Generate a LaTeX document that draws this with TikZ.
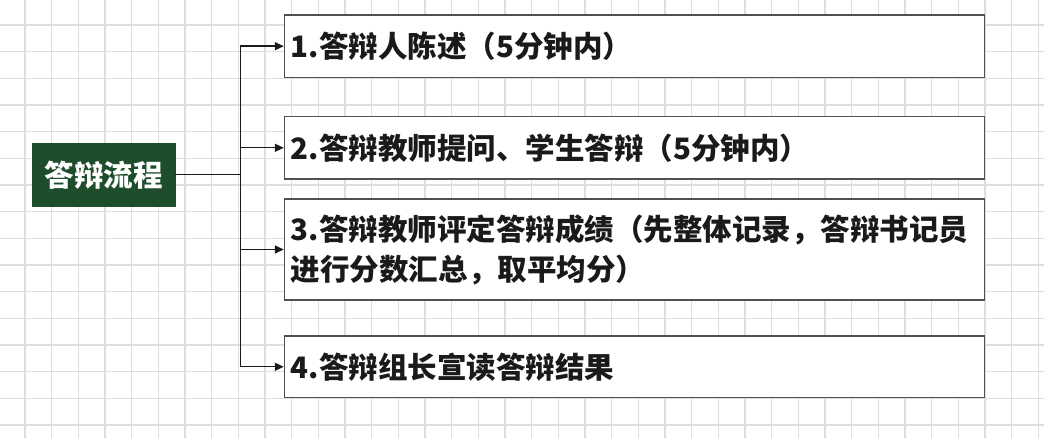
\documentclass[tikz,border=0pt]{standalone}
\usepackage{fontspec}
\newfontfamily\cjk{Noto Sans CJK SC}
\usetikzlibrary{arrows.meta,calc}
\definecolor{darkgreen}{RGB}{30,77,43}
\definecolor{gridgray}{RGB}{222,222,222}
\definecolor{boxgray}{RGB}{80,80,80}
\definecolor{ink}{RGB}{26,26,26}
\tikzset{
  gridline/.style={draw=gridgray,line width=1.3bp},
  stepbox/.style={draw=boxgray,fill=white,line width=1.4bp,minimum width=700bp,
    text width=687bp,inner xsep=6.5bp,inner ysep=0pt,align=left,text=ink,
    font=\cjk\bfseries\fontsize{29.5bp}{40bp}\selectfont},
  titlebox/.style={fill=darkgreen,draw=darkgreen,minimum width=142.7bp,minimum height=62.7bp,
    inner sep=0pt,text=white,font=\cjk\bfseries\fontsize{29.5bp}{34bp}\selectfont},
  link/.style={draw=ink,line width=1.4bp},
  arr/.style={link,-{Triangle[length=9bp,width=8bp]}}
}
\begin{document}
\begin{tikzpicture}[x=1bp,y=-1bp]
\useasboundingbox (0,0) rectangle (1044,438);
\fill[white] (0,0) rectangle (1044,438);
\foreach \i in {0,...,38} \draw[gridline] ({25+26.667*\i},0) -- ({25+26.667*\i},438);
\foreach \j in {0,...,15} \draw[gridline] (0,{25+26.667*\j}) -- (1044,{25+26.667*\j});

\node[titlebox] (g) at (103.7,174.7) {答辩流程};
\node[stepbox,minimum height=62.3bp] (b1) at (634.5,46.2) {1.答辩人陈述（5分钟内）};
\node[stepbox,minimum height=62.3bp] (b2) at (634.5,147.8) {2.答辩教师提问、学生答辩（5分钟内）};
\node[stepbox,minimum height=101bp] (b3) at (634.5,249.5) {3.答辩教师评定答辩成绩（先整体记录，答辩书记员\\进行分数汇总，取平均分）};
\node[stepbox,minimum height=61.7bp] (b4) at (634.5,366.8) {4.答辩组长宣读答辩结果};

\coordinate (j) at ($(g.east)+(65,0)$);
\draw[link] (g.east) -- (j);
\draw[arr] (j) |- (b1.west);
\draw[arr] (j) |- (b2.west);
\draw[arr] (j) |- (b3.west);
\draw[arr] (j) |- (b4.west);
\end{tikzpicture}
\end{document}
